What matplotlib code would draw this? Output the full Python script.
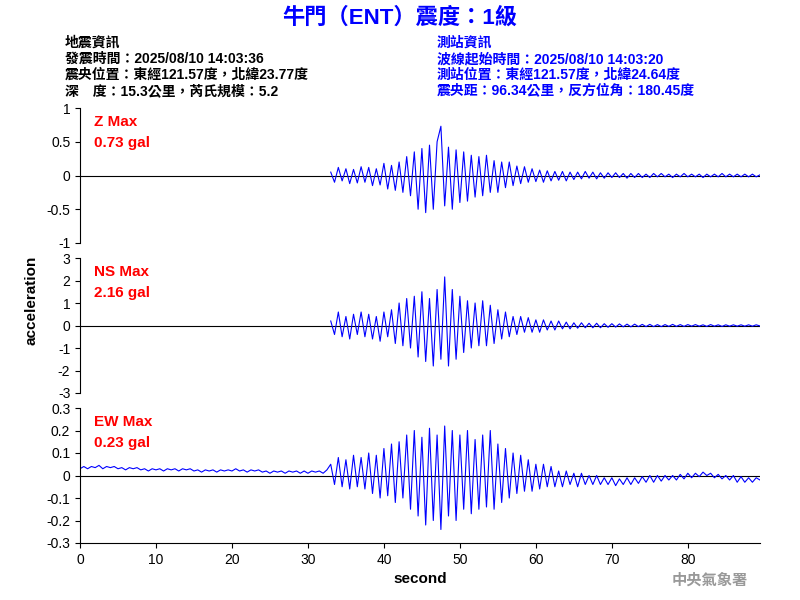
import numpy as np
import matplotlib
matplotlib.use("Agg")
import matplotlib.pyplot as plt

plt.rcParams['font.family'] = ['Liberation Sans', 'Noto Sans CJK TC', 'DejaVu Sans']

z_vals = [0.05,-0.1,0.12,-0.08,0.1,-0.12,0.09,-0.11,0.13,-0.1,
 0.12,-0.15,0.1,-0.14,0.18,-0.2,0.15,-0.22,0.2,-0.25,
 0.28,-0.3,0.35,-0.5,0.4,-0.55,0.45,-0.5,0.5,0.73,
 -0.45,0.42,-0.5,0.38,-0.4,0.35,-0.38,0.3,-0.32,0.28,
 -0.3,0.3,-0.25,0.22,-0.25,0.2,-0.18,0.2,-0.15,0.14,
 -0.12,0.13,-0.1,0.1,-0.09,0.08,-0.1,0.07,-0.08,0.06,
 -0.07,0.06,-0.08,0.05,-0.06,0.05,-0.05,0.06,-0.04,0.05,
 -0.05,0.04,-0.04,0.04,-0.03,0.04,-0.03,0.03,-0.04,0.03,
 -0.03,0.03,-0.03,0.02,-0.03,0.03,-0.02,0.03,-0.02,0.02,
 -0.03,0.02,-0.02,0.03,-0.02,0.02,-0.02,0.02,-0.03,0.02,
 -0.02,0.02,-0.02,0.03,-0.02,0.02,-0.02,0.02,-0.02,0.02,
 -0.02,0.02,-0.02,0.01]
ns_vals = [0.2,-0.4,0.6,-0.5,0.4,-0.6,0.5,-0.4,0.6,-0.5,
 0.5,-0.6,0.4,-0.7,0.6,-0.5,0.7,-0.8,1.0,-0.9,
 1.2,-1.0,1.3,-1.4,1.5,-1.6,1.2,-1.8,1.6,-1.5,
 2.16,-1.8,1.6,-1.5,1.3,-1.2,1.1,-1.0,1.0,-0.9,
 1.1,-0.9,0.9,-0.8,0.7,-0.6,0.6,-0.5,0.4,-0.4,
 0.4,-0.3,0.35,-0.3,0.25,-0.3,0.25,-0.2,0.2,-0.2,
 0.2,-0.15,0.15,-0.15,0.12,-0.12,0.12,-0.1,0.1,-0.1,
 0.1,-0.1,0.08,-0.08,0.08,-0.07,0.07,-0.06,0.06,-0.06,
 0.06,-0.05,0.05,-0.05,0.05,-0.05,0.04,-0.05,0.04,-0.04,
 0.05,-0.04,0.04,-0.04,0.04,-0.03,0.04,-0.03,0.03,-0.04,
 0.04,-0.03,0.03,-0.04,0.03,-0.03,0.03,-0.03,0.03,-0.03,
 0.03,-0.03,0.03,-0.02]
ew_vals = [0.03,0.04,0.03,0.04,0.035,0.045,0.03,0.04,0.035,0.04,
 0.03,0.035,0.025,0.035,0.03,0.035,0.025,0.03,0.02,0.03,
 0.025,0.03,0.02,0.03,0.025,0.03,0.02,0.03,0.025,0.03,
 0.02,0.025,0.015,0.025,0.02,0.025,0.015,0.025,0.02,0.025,
 0.02,0.03,0.02,0.025,0.015,0.025,0.02,0.025,0.015,0.02,
 0.01,0.02,0.015,0.02,0.01,0.02,0.015,0.02,0.01,0.02,
 0.01,0.02,0.015,0.02,0.01,0.025,
 0.05,-0.04,0.08,-0.05,0.07,-0.06,0.09,-0.05,0.08,-0.06,
 0.1,-0.08,0.09,-0.1,0.12,-0.09,0.14,-0.12,0.15,-0.1,
 0.18,-0.15,0.2,-0.18,0.17,-0.22,0.21,-0.2,0.18,-0.24,
 0.22,-0.18,0.2,-0.2,0.18,-0.15,0.2,-0.17,0.16,-0.15,
 0.18,-0.14,0.2,-0.15,0.14,-0.12,0.12,-0.1,0.1,-0.08,
 0.09,-0.07,0.07,-0.07,0.05,-0.06,0.05,-0.05,0.04,-0.05,
 0.02,-0.05,0.02,-0.04,0.01,-0.05,0.01,-0.04,0.0,-0.04,
 0.0,-0.04,-0.01,-0.04,-0.01,-0.045,-0.015,-0.04,-0.01,-0.04,
 -0.01,-0.035,-0.005,-0.03,0.0,-0.03,0.0,-0.025,0.0,-0.02,
 0.0,-0.02,0.005,-0.015,0.01,-0.01,0.01,-0.005,0.015,0.0,
 0.01,-0.01,0.005,-0.015,0.0,-0.02,0.0,-0.03,-0.005,-0.03,
 -0.01,-0.03,-0.01,-0.02]
t_event = np.arange(len(z_vals)) * 0.5 + 33.0
t_ew = np.arange(len(ew_vals)) * 0.5

panels = [
    ("Z Max", "0.73 gal", t_event, z_vals, (-1, 1), [-1, -0.5, 0, 0.5, 1], ["-1", "-0.5", "0", "0.5", "1"]),
    ("NS Max", "2.16 gal", t_event, ns_vals, (-3, 3), [-3, -2, -1, 0, 1, 2, 3], ["-3", "-2", "-1", "0", "1", "2", "3"]),
    ("EW Max", "0.23 gal", t_ew, ew_vals, (-0.3, 0.3), [-0.3, -0.2, -0.1, 0, 0.1, 0.2, 0.3], ["-0.3", "-0.2", "-0.1", "0", "0.1", "0.2", "0.3"]),
]
xticks = [0, 10, 20, 30, 40, 50, 60, 70, 80]

fig = plt.figure(figsize=(8, 6), dpi=100)
tops = [108, 258, 408]
for i, (lab, val, t, v, yl, yt, ytl) in enumerate(panels):
    top = tops[i]
    ax = fig.add_axes([0.1, 1 - (top + 135) / 600, 0.85, 135 / 600])
    ax.axhline(0, color='black', lw=0.8)
    ax.plot(t, v, color='blue', lw=0.8)
    ax.set_xlim(0, 89.5)
    ax.set_ylim(*yl)
    ax.set_yticks(yt)
    ax.set_yticklabels(ytl, fontsize=10)
    for s in ['top', 'right']:
        ax.spines[s].set_visible(False)
    if i < 2:
        ax.spines['bottom'].set_visible(False)
        ax.set_xticks([])
    else:
        ax.set_xticks(xticks)
        ax.set_xticklabels([str(x) for x in xticks], fontsize=10)
        ax.set_xlabel("second", fontsize=11, fontweight='bold')
    ax.text(0.02, 0.95, lab, transform=ax.transAxes, color='red', fontsize=11, va='top', fontweight='bold')
    ax.text(0.02, 0.79, val, transform=ax.transAxes, color='red', fontsize=11, va='top', fontweight='bold')

fig.text(0.04, 0.5, "acceleration", rotation=90, ha='center', va='center', fontsize=11, fontweight='bold')
fig.text(0.5, 0.97, "牛門（ENT）震度：1級", ha='center', va='center', fontsize=16, fontweight='bold', color='blue')
left = ["地震資訊", "發震時間：2025/08/10 14:03:36", "震央位置：東經121.57度，北緯23.77度", "深　度：15.3公里，芮氏規模：5.2"]
right = ["測站資訊", "波線起始時間：2025/08/10 14:03:20", "測站位置：東經121.57度，北緯24.64度", "震央距：96.34公里，反方位角：180.45度"]
for k, (a, b) in enumerate(zip(left, right)):
    y = 1 - (43 + 16 * k) / 600
    fig.text(65 / 800, y, a, fontsize=10, fontweight='bold', va='center', color='black')
    fig.text(437 / 800, y, b, fontsize=10, fontweight='bold', va='center', color='blue')
fig.text(748 / 800, 1 - 580 / 600, "中央氣象署", ha='right', va='center', fontsize=11, fontweight='bold', color='#999999')
fig.savefig("out.png", dpi=100)
